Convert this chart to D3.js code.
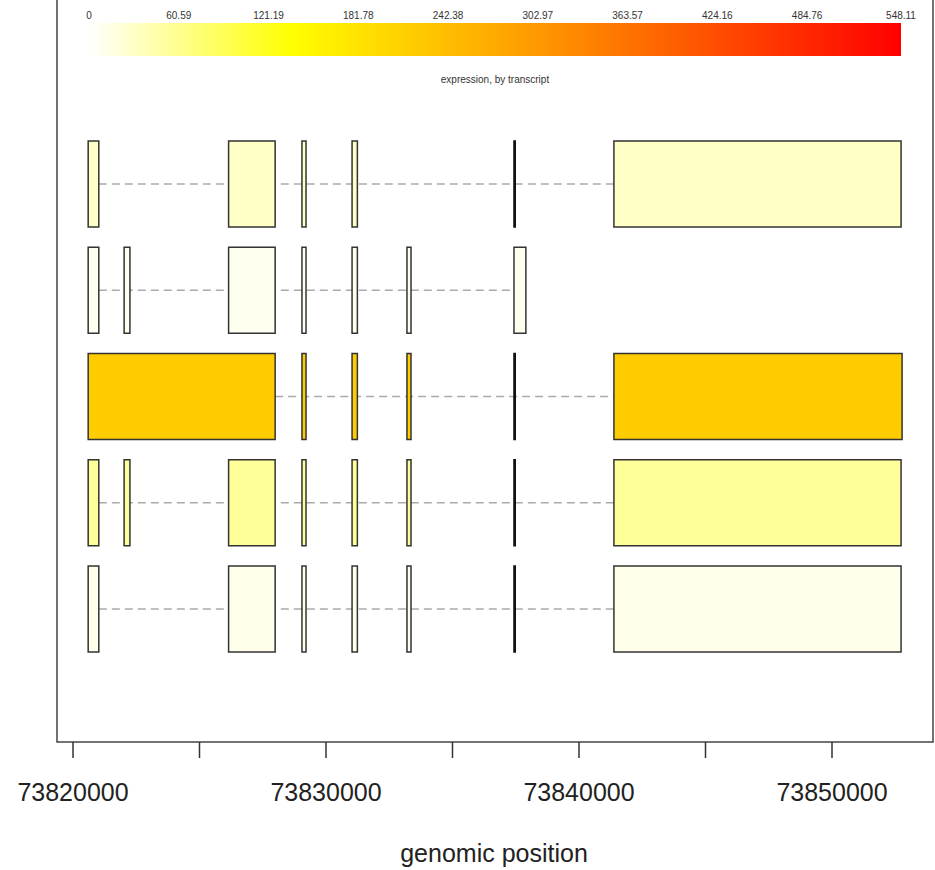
<!DOCTYPE html>
<html>
<head>
<meta charset="utf-8">
<script src="https://cdn.jsdelivr.net/npm/d3@7"></script>
<style>
  html, body { margin: 0; padding: 0; background: #fff; }
  svg { display: block; font-family: "Liberation Sans", Arial, sans-serif; }
</style>
</head>
<body>
<svg id="chart" width="935" height="870"></svg>
<script>
// Exon coordinates (bp) for each transcript, top to bottom
const exonStarts = [
  [73820600, 73826150, 73829050, 73831030, 73837430, 73841380],
  [73820600, 73822020, 73826150, 73829050, 73831030, 73833200, 73837430],
  [73820600, 73829050, 73831030, 73833200, 73837430, 73841380],
  [73820600, 73822020, 73826150, 73829050, 73831030, 73833200, 73837430, 73841380],
  [73820600, 73826150, 73829050, 73831030, 73833200, 73837430, 73841380]
];
const exonEnds = [
  [73821020, 73827990, 73829210, 73831240, 73837480, 73852730],
  [73821020, 73822250, 73827990, 73829210, 73831240, 73833360, 73837900],
  [73827990, 73829210, 73831240, 73833360, 73837480, 73852770],
  [73821020, 73822250, 73827990, 73829210, 73831240, 73833360, 73837480, 73852730],
  [73821020, 73827990, 73829210, 73831240, 73833360, 73837480, 73852730]
];
// Expression per transcript
const expression = [30.7, 8.1, 219.2, 54.8, 11.3];

// Colour key
const colorMax = 548.11;
const colorTickLabels = ["0", "60.59", "121.19", "181.78", "242.38", "302.97", "363.57", "424.16", "484.76", "548.11"];
const colorTickValues = [0, 60.59, 121.19, 181.78, 242.38, 302.97, 363.57, 424.16, 484.76, 548.11];

// Genomic axis
const axisTicks = [73820000, 73825000, 73830000, 73835000, 73840000, 73845000, 73850000];
const axisLabelled = [73820000, 73830000, 73840000, 73850000];

const svg = d3.select("#chart");

// reversed heat palette: near-white -> yellow -> orange -> red
function heat(v) {
  const t = Math.max(0, Math.min(1, v / colorMax));
  if (t <= 0.25) {
    const s = Math.max(t / 0.25, 0.03);
    return d3.rgb(255, 255, Math.round(255 * (1 - s))).formatHex();
  }
  const h = 1 - (t - 0.25) / 0.75;
  return d3.rgb(255, Math.round(255 * h), 0).formatHex();
}

const x = d3.scaleLinear().domain([73820000, 73850000]).range([73, 832]);
const y = d3.scalePoint().domain(d3.range(exonStarts.length)).range([184, 609]);
const exonHalf = 43;

// plot frame
const frame = { left: 57, right: 933, top: -10, bottom: 742 };
svg.append("rect")
  .attr("x", frame.left).attr("y", frame.top)
  .attr("width", frame.right - frame.left).attr("height", frame.bottom - frame.top)
  .attr("fill", "none").attr("stroke", "#444").attr("stroke-width", 1.5);

// colour key gradient
const cx = d3.scaleLinear().domain([0, colorMax]).range([89, 901]);
const defs = svg.append("defs");
const grad = defs.append("linearGradient").attr("id", "heatgrad")
  .attr("x1", "0%").attr("x2", "100%").attr("y1", "0%").attr("y2", "0%");
d3.range(0, 101).forEach(i => {
  grad.append("stop").attr("offset", i + "%").attr("stop-color", heat(colorMax * i / 100));
});
svg.append("rect")
  .attr("x", cx(0)).attr("y", 23)
  .attr("width", cx(colorMax) - cx(0)).attr("height", 33)
  .attr("fill", "url(#heatgrad)");

svg.append("g").selectAll("text")
  .data(colorTickValues)
  .join("text")
  .attr("x", d => cx(d)).attr("y", 19)
  .attr("text-anchor", "middle")
  .attr("font-size", 10).attr("fill", "#333")
  .text((d, i) => colorTickLabels[i]);

svg.append("text")
  .attr("x", 495).attr("y", 83)
  .attr("text-anchor", "middle")
  .attr("font-size", 10).attr("fill", "#333")
  .text("expression, by transcript");

// transcripts
const tx = svg.append("g");
exonStarts.forEach((starts, i) => {
  const ends = exonEnds[i];
  const g = tx.append("g");
  // intron connector
  g.append("line")
    .attr("x1", x(ends[0])).attr("x2", x(starts[starts.length - 1]))
    .attr("y1", y(i)).attr("y2", y(i))
    .attr("stroke", "#aaa").attr("stroke-width", 1.5)
    .attr("stroke-dasharray", "8,5");
  g.selectAll("rect")
    .data(starts.map((s, k) => ({ s, e: ends[k] })))
    .join("rect")
    .attr("x", d => x(d.s)).attr("width", d => Math.max(x(d.e) - x(d.s), 0.5))
    .attr("y", y(i) - exonHalf).attr("height", exonHalf * 2)
    .attr("fill", heat(expression[i]))
    .attr("stroke", d => (x(d.e) - x(d.s) < 2 ? "#111" : "#333"))
    .attr("stroke-width", 1.5);
});

// genomic position axis
const ax = svg.append("g");
ax.selectAll("line")
  .data(axisTicks)
  .join("line")
  .attr("x1", d => x(d)).attr("x2", d => x(d))
  .attr("y1", frame.bottom).attr("y2", frame.bottom + 16)
  .attr("stroke", "#333").attr("stroke-width", 1.5);
ax.selectAll("text")
  .data(axisLabelled)
  .join("text")
  .attr("x", d => x(d)).attr("y", 801)
  .attr("text-anchor", "middle")
  .attr("font-size", 25).attr("fill", "#222")
  .text(d => d3.format("d")(d));

svg.append("text")
  .attr("x", 494).attr("y", 862)
  .attr("text-anchor", "middle")
  .attr("font-size", 25).attr("fill", "#222")
  .text("genomic position");
</script>
</body>
</html>
